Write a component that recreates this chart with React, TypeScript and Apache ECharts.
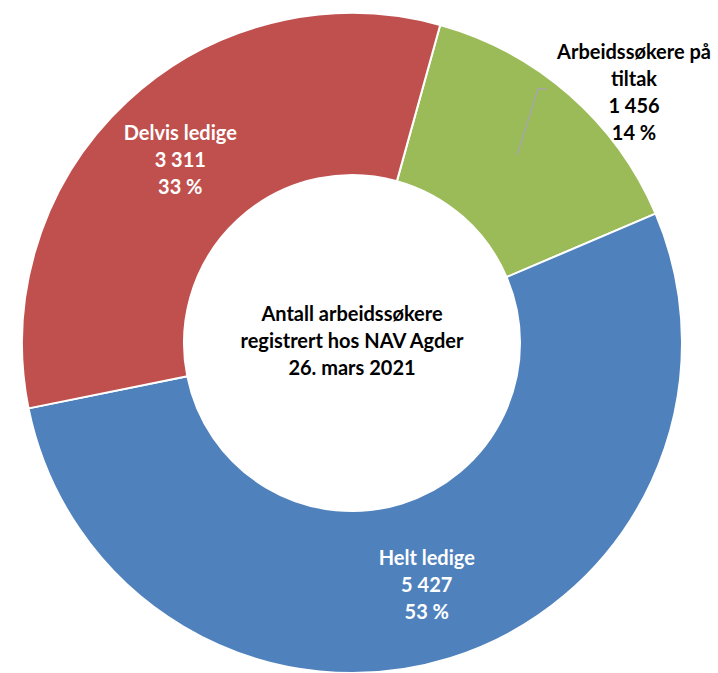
import React, { useEffect, useRef } from "react";
import * as echarts from "echarts";

const categories = ["Arbeidssøkere på\ntiltak", "Helt ledige", "Delvis ledige"];
const values = [1456, 5427, 3311];
const colors = ["#9BBB59", "#4F81BD", "#C0504D"];
const centerLines = ["Antall arbeidssøkere", "registrert hos NAV Agder", "26. mars 2021"];

const fmt = (v: number) => String(v).replace(/\B(?=(\d{3})+(?!\d))/g, " ");

export default function App() {
  const ref = useRef<HTMLDivElement>(null);
  useEffect(() => {
    if (!ref.current) return;
    const chart = echarts.init(ref.current, undefined, { renderer: "svg" });
    const font = "Lato, 'Open Sans', sans-serif";
    const fs = 20;
    const data = categories.map((name, i) => ({
      name,
      value: values[i],
      itemStyle: { color: colors[i] },
      label:
        i === 0
          ? { position: "inside", color: "#000000" }
          : { position: "inside", color: "#ffffff" },
    }));
    chart.setOption({
      animation: false,
      backgroundColor: "#ffffff",
      graphic: [
        {
          type: "polyline",
          shape: {
            points: [
              [517, 155],
              [538, 89],
              [547, 89],
            ],
          },
          style: { stroke: "#A6A6A6", lineWidth: 1.5, fill: null },
          z: 10,
        },
        {
          type: "text",
          x: 352,
          y: 340,
          style: {
            text: centerLines.join("\n"),
            fill: "#000000",
            fontFamily: font,
            fontWeight: "bold",
            fontSize: fs,
            lineHeight: 27,
            align: "center",
            verticalAlign: "middle",
          },
        },
      ],
      series: [
        {
          type: "pie",
          center: [352, 343],
          radius: [168, 330],
          startAngle: 74.5,
          clockwise: true,
          percentPrecision: 0,
          avoidLabelOverlap: false,
          itemStyle: { borderColor: "#ffffff", borderWidth: 2 },
          label: {
            show: true,
            formatter: (p: any) => `${p.name}\n${fmt(p.value)}\n${p.percent} %`,
            fontFamily: font,
            fontWeight: "bold",
            fontSize: fs,
            lineHeight: 27,
            align: "center",
          },
          labelLine: { show: false },
          labelLayout: (params: any) => {
            if (params.dataIndex === 0) {
              return { x: 634, y: 91, align: "center", verticalAlign: "middle" };
            }
            return {};
          },
          data,
        },
      ],
    });
    return () => chart.dispose();
  }, []);
  return (
    <div
      ref={ref}
      style={{ position: "fixed", left: 0, top: 0, width: 718, height: 673 }}
    />
  );
}
